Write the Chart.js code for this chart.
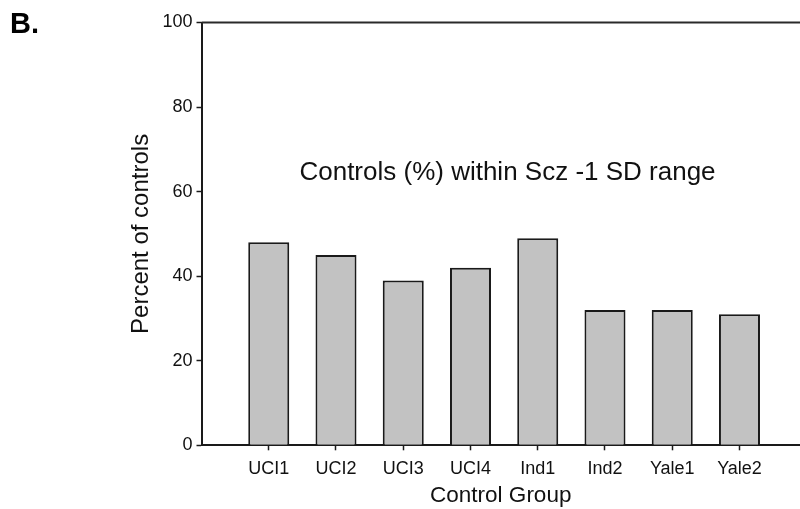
<!DOCTYPE html>
<html>
<head>
<meta charset="utf-8">
<script src="https://cdn.jsdelivr.net/npm/chart.js@4/dist/chart.umd.min.js"></script>
<style>
  html, body { margin: 0; padding: 0; background: #fff; }
  #wrap { width: 800px; height: 509px; position: relative; }
</style>
</head>
<body>
<div id="wrap"><canvas id="c" width="800" height="509"></canvas></div>
<script>
const categories = ['UCI1', 'UCI2', 'UCI3', 'UCI4', 'Ind1', 'Ind2', 'Yale1', 'Yale2'];
const percentValues = [48, 45, 39, 42, 49, 32, 32, 31];
const yTicks = [0, 20, 40, 60, 80, 100];
const panelLabel = 'B.';
const annotationText = 'Controls (%) within Scz -1 SD range';
const xTitle = 'Control Group';
const yTitle = 'Percent of controls';

const FONT = '"Liberation Sans", Arial, Helvetica, sans-serif';
const INK = '#1a1a1a';

const decor = {
  id: 'decor',
  afterDraw(chart) {
    const { ctx, chartArea } = chart;
    ctx.save();
    // top frame line
    ctx.strokeStyle = '#2a2a2a';
    ctx.lineWidth = 2;
    ctx.beginPath();
    ctx.moveTo(chartArea.left, chartArea.top);
    ctx.lineTo(chartArea.right, chartArea.top);
    ctx.stroke();
    // panel label
    ctx.fillStyle = '#000';
    ctx.font = 'bold 29px ' + FONT;
    ctx.textAlign = 'left';
    ctx.textBaseline = 'alphabetic';
    ctx.fillText(panelLabel, 10, 33);
    // annotation
    ctx.font = '26px ' + FONT;
    ctx.textAlign = 'center';
    ctx.fillStyle = '#111';
    ctx.fillText(annotationText, 507.5, 179.5);
    ctx.restore();
  }
};

const chart = new Chart(document.getElementById('c'), {
  type: 'bar',
  data: {
    datasets: [{
      data: percentValues.map((v, i) => ({ x: i, y: v })),
      backgroundColor: '#c2c2c2',
      borderColor: INK,
      borderWidth: 2,
      borderSkipped: 'start',
      categoryPercentage: 1,
      barPercentage: 0.61
    }]
  },
  options: {
    responsive: false,
    animation: false,
    layout: { padding: { left: 0, right: 0, top: 22.5, bottom: 0 } },
    plugins: { legend: { display: false }, tooltip: { enabled: false }, title: { display: false } },
    scales: {
      x: {
        type: 'linear',
        min: -1,
        max: 7.9,
        offset: false,
        afterBuildTicks(scale) { scale.ticks = categories.map((_, i) => ({ value: i })); },
        afterFit(scale) { scale.height = 509 - 445.3; },
        ticks: {
          autoSkip: false,
          maxRotation: 0,
          padding: 7.5,
          color: '#111',
          font: { family: FONT, size: 18 },
          callback: (v) => categories[v] !== undefined ? categories[v] : ''
        },
        grid: { display: true, drawOnChartArea: false, drawTicks: true, tickLength: 5, tickWidth: 1.5, tickColor: INK, offset: false },
        border: { display: true, color: INK, width: 2 },
        title: { display: true, text: xTitle, color: '#111', font: { family: FONT, size: 22.5 }, padding: { top: 0, bottom: 0 } }
      },
      y: {
        min: 0,
        max: 100,
        afterBuildTicks(scale) { scale.ticks = yTicks.map(v => ({ value: v })); },
        afterFit(scale) { scale.width = 201.5; },
        ticks: { padding: 4, color: '#111', font: { family: FONT, size: 18 } },
        grid: { display: true, drawOnChartArea: false, drawTicks: true, tickLength: 5, tickWidth: 1.5, tickColor: INK },
        border: { display: true, color: INK, width: 2 },
        title: { display: true, text: yTitle, color: '#111', font: { family: FONT, size: 24 }, padding: { top: 127, bottom: 0 } }
      }
    }
  },
  plugins: [decor]
});
</script>
</body>
</html>
